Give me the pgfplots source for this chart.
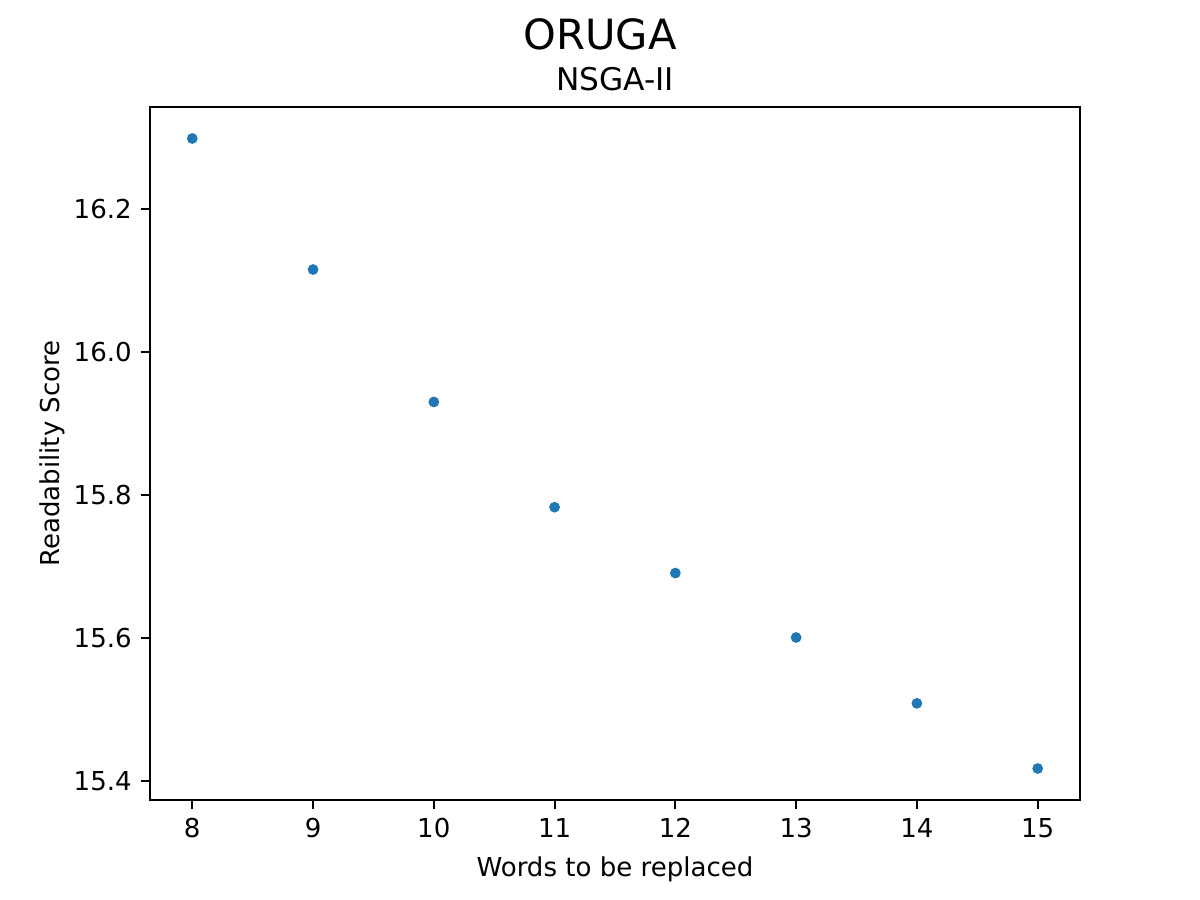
\documentclass[border=0pt]{standalone}
\usepackage{fontspec}
\setmainfont{DejaVu Sans}
\usepackage{pgfplots}
\pgfplotsset{compat=1.18}
\definecolor{tabblue}{HTML}{1F77B4}
\begin{document}
\begin{tikzpicture}
\path[use as bounding box] (0,0) rectangle (460.8pt,345.6pt);
\node[anchor=base,font=\fontsize{16}{18}\selectfont] at (230.4pt,326.4pt) {ORUGA};
\begin{axis}[
  at={(57.6pt,38.4pt)}, anchor=south west,
  scale only axis,
  width=357.1pt, height=266.1pt,
  xmin=7.65, xmax=15.35,
  ymin=15.374, ymax=16.342,
  xtick={8,9,10,11,12,13,14,15},
  ytick={15.4,15.6,15.8,16.0,16.2},
  yticklabel style={/pgf/number format/.cd,fixed,fixed zerofill,precision=1},
  /pgf/number format/assume math mode=true,
  tick label style={font=\fontsize{10}{12}\selectfont},
  label style={font=\fontsize{10}{12}\selectfont},
  tick align=outside,
  major tick length=3.5pt,
  every tick/.style={black,line width=0.8pt},
  axis line style={line width=0.8pt},
  xtick pos=lower, ytick pos=left,
  xlabel={Words to be replaced},
  ylabel={Readability Score},
  title={NSGA-II},
  title style={font=\fontsize{12}{14}\selectfont, yshift=-3.5pt},
  xlabel style={yshift=-0.5pt},
  ylabel style={yshift=-3.5pt},
]
\addplot[only marks, mark=*, mark size=1.85pt, color=tabblue, mark options={draw=tabblue, fill=tabblue}] coordinates {
(8,16.298) (9,16.115) (10,15.930) (11,15.783) (12,15.691) (13,15.601) (14,15.509) (15,15.418)
};
\end{axis}
\end{tikzpicture}
\end{document}
